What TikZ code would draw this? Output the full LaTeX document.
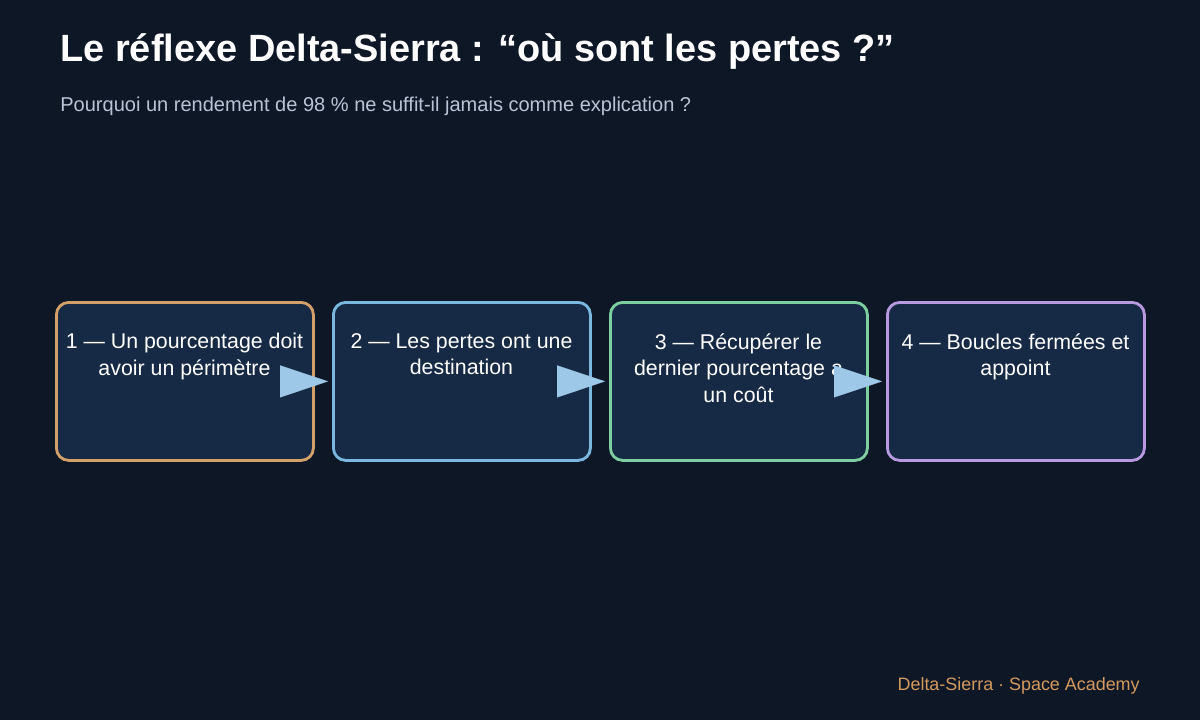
\documentclass[tikz,border=0pt]{standalone}
\usepackage{fontspec}
\setmainfont{Liberation Sans}
\usetikzlibrary{arrows.meta}
\definecolor{bg}{HTML}{0E1726}
\definecolor{boxfill}{HTML}{172A45}
\definecolor{cA}{HTML}{D4A06A}
\definecolor{cB}{HTML}{7BB8E0}
\definecolor{cC}{HTML}{7DCFA0}
\definecolor{cD}{HTML}{B89AE0}
\definecolor{arr}{HTML}{9EC8E8}
\definecolor{sub}{HTML}{B8C4D6}
\definecolor{foot}{HTML}{D49A5E}
\begin{document}
\begin{tikzpicture}[x=0.02cm,y=-0.02cm,
  box/.style={draw, line width=1.6pt, fill=boxfill, rounded corners=7pt, minimum width=257*0.02cm, minimum height=158*0.02cm, anchor=north west, inner sep=0},
  lbl/.style={text=white, font=\fontsize{12.15}{15.2}\selectfont, align=center, anchor=north, inner sep=0},
  conn/.style={draw=arr, line width=0.1pt, -{Triangle[length=48*0.02cm,width=32*0.02cm,fill=arr]}, shorten >=4*0.02cm}]
\fill[bg] (0,0) rectangle (1200,720);
\useasboundingbox (0,0) rectangle (1200,720);
\node[anchor=west, text=white, font=\fontsize{21.6}{25}\selectfont\bfseries, inner sep=0] (title) at (60,52) {Le réflexe Delta-Sierra : “où sont les pertes ?”};
\node[anchor=west, text=sub, font=\fontsize{11.4}{14}\selectfont, inner sep=0] (subtitle) at (60,106) {Pourquoi un rendement de 98 \% ne suffit-il jamais comme explication ?};
\node[box, draw=cA] (b1) at (55,301) {};
\node[box, draw=cB] (b2) at (332,301) {};
\node[box, draw=cC] (b3) at (609,301) {};
\node[box, draw=cD] (b4) at (886,301) {};
\node[lbl] (t1) at (184.5,333) {1 — Un pourcentage doit\\avoir un périmètre};
\node[lbl] (t2) at (461.5,333) {2 — Les pertes ont une\\destination};
\node[lbl] (t3) at (738.5,333) {3 — Récupérer le\\dernier pourcentage a\\un coût};
\node[lbl] (t4) at (1015.5,333) {4 — Boucles fermées et\\appoint};
\draw[conn] (b1.east) -- (b2.west);
\draw[conn] (b2.east) -- (b3.west);
\draw[conn] (b3.east) -- (b4.west);
\node[anchor=east, text=foot, font=\fontsize{10.2}{12}\selectfont, inner sep=0] (footer) at (1140,686) {Delta-Sierra · Space Academy};
\end{tikzpicture}
\end{document}
